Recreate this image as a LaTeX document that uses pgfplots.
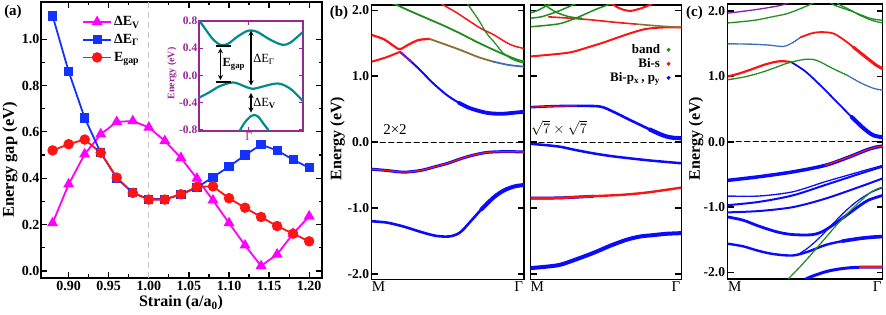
\documentclass[border=0pt]{standalone}
\usepackage{fontspec}
\setmainfont{Liberation Serif}
\usepackage{pgfplots}
\pgfplotsset{compat=1.18}
\definecolor{mag}{RGB}{255,0,255}
\definecolor{ablue}{RGB}{20,50,255}
\definecolor{ared}{RGB}{255,20,20}
\definecolor{tealc}{RGB}{0,140,140}
\definecolor{ipurple}{RGB}{150,40,150}
\definecolor{bblue}{RGB}{10,10,255}
\definecolor{bred}{RGB}{250,20,20}
\definecolor{bgreen}{RGB}{30,140,30}
\definecolor{oliv}{RGB}{140,110,50}
\definecolor{steel}{RGB}{60,110,180}
\definecolor{bpurple}{RGB}{130,30,170}
\pgfplotsset{
  bandax/.style={
    anchor=south west, scale only axis,
    xmin=0, xmax=1,
    axis line style={line width=1.5pt},
    ytick={-2,-1,0,1,2},
    yticklabels={-2.0,-1.0,0.0,1.0,2.0},
    tick align=inside,
    major tick length=6pt,
    ytick style={line width=1.5pt, black},
    xtick={0.045,0.965},
    xticklabels={M,Γ},
    xtick style={draw=none},
    xticklabel style={font=\fontsize{15}{15}\selectfont, inner sep=1pt, yshift=-1pt},
    yticklabel style={font=\fontsize{13.5}{14}\selectfont\bfseries, inner sep=2.5pt},
    every axis plot/.append style={smooth, line cap=round},
  },
  dotl/.style={line width=1.4pt, dash pattern=on 1pt off 0.8pt},
  fermi/.style={black, line width=1.2pt, dash pattern=on 5pt off 3.5pt, sharp plot},
}
\begin{document}
\begin{tikzpicture}[x=1pt,y=1pt]
\path[use as bounding box] (0,0) rectangle (886,315);

% ---------------- panel (a)
\begin{axis}[at={(41pt,37pt)}, anchor=south west, scale only axis, width=281pt, height=276pt,
  xmin=0.8655, xmax=1.216, ymin=-0.03, ymax=1.16,
  xtick={0.90,0.95,1.00,1.05,1.10,1.15,1.20},
  xticklabels={0.90,0.95,1.00,1.05,1.10,1.15,1.20},
  ytick={0,0.2,0.4,0.6,0.8,1.0}, yticklabels={0.0,0.2,0.4,0.6,0.8,1.0},
  minor x tick num=1, minor y tick num=1,
  tick align=inside, major tick length=6pt, minor tick length=3.5pt,
  tick style={line width=1.2pt, black},
  axis line style={line width=1.5pt},
  tick label style={font=\fontsize{14}{15}\selectfont\bfseries},
  yticklabel style={inner sep=1.5pt},
  legend style={draw=none, fill=none, at={(0.146,0.955)}, anchor=north west,
    font=\fontsize{14}{16}\selectfont\bfseries, row sep=3pt, inner sep=0pt,
    nodes={inner sep=2pt}},
  legend cell align=left,
  legend image code/.code={\draw[mark repeat=2,mark phase=2,#1] plot coordinates {(0pt,0pt)(14pt,0pt)(28pt,0pt)};},
]
\addplot[gray!45, line width=1.2pt, dash pattern=on 6pt off 4pt, forget plot] coordinates {(1,-0.03)(1,1.16)};
\addplot[mag, line width=1.8pt, mark=triangle*, mark size=4.6pt] coordinates {
(0.88,0.207)(0.90,0.374)(0.92,0.504)(0.94,0.59)(0.96,0.643)(0.98,0.647)(1.00,0.619)(1.02,0.561)(1.04,0.488)(1.06,0.399)(1.08,0.305)(1.10,0.207)(1.12,0.111)(1.14,0.022)(1.16,0.072)(1.18,0.161)(1.20,0.236)};
\addlegendentry{ΔE\textsubscript{V}}
\addplot[ablue, line width=1.8pt, mark=square*, mark size=3.7pt] coordinates {
(0.88,1.10)(0.90,0.86)(0.92,0.66)(0.94,0.51)(0.96,0.40)(0.98,0.337)(1.00,0.31)(1.02,0.31)(1.04,0.33)(1.06,0.36)(1.08,0.405)(1.10,0.45)(1.12,0.50)(1.14,0.545)(1.16,0.52)(1.18,0.48)(1.20,0.445)};
\addlegendentry{ΔE\textsubscript{Γ}}
\addplot[ared, line width=1.8pt, mark=*, mark size=4.3pt] coordinates {
(0.88,0.52)(0.90,0.547)(0.92,0.567)(0.94,0.51)(0.96,0.403)(0.98,0.337)(1.00,0.308)(1.02,0.308)(1.04,0.331)(1.06,0.363)(1.08,0.365)(1.10,0.314)(1.12,0.273)(1.14,0.233)(1.16,0.194)(1.18,0.161)(1.20,0.128)};
\addlegendentry{E\textsubscript{gap}}
\end{axis}

% ---------------- inset
\begin{axis}[at={(199pt,184pt)}, anchor=south west, scale only axis, width=104pt, height=110pt,
  xmin=0, xmax=1, ymin=-0.82, ymax=0.8,
  axis background/.style={fill=white},
  axis line style={ipurple, line width=1.3pt},
  ytick={-0.8,-0.4,0,0.4,0.8}, yticklabels={-0.8,-0.4,0.0,0.4,0.8},
  xtick={0.48}, xticklabels={Γ},
  tick style={ipurple, line width=1pt},
  tick align=inside, major tick length=4pt,
  yticklabel style={ipurple, font=\fontsize{11.5}{12}\selectfont\bfseries, inner sep=1.5pt},
  xticklabel style={ipurple, font=\fontsize{12}{12}\selectfont, inner sep=1pt},
]
\addplot[tealc, line width=2.2pt, smooth] coordinates {(-0.02,0.86)(0.006,0.8)(0.071,0.66)(0.135,0.53)(0.21,0.445)(0.28,0.465)(0.361,0.56)(0.45,0.645)(0.5,0.66)(0.56,0.64)(0.684,0.525)(0.8,0.45)(0.877,0.48)(1,0.64)};
\addplot[tealc, line width=2.2pt, smooth] coordinates {(0,-0.33)(0.1,-0.25)(0.2,-0.16)(0.33,-0.105)(0.45,-0.17)(0.52,-0.2)(0.6,-0.17)(0.76,-0.12)(0.88,-0.2)(1,-0.38)};
\addplot[tealc, line width=2.2pt, smooth] coordinates {(0.375,-0.86)(0.394,-0.81)(0.442,-0.69)(0.5,-0.6)(0.53,-0.585)(0.57,-0.61)(0.619,-0.71)(0.668,-0.81)(0.685,-0.86)};
\draw[black, line width=1.6pt] (axis cs:0.16,0.43) -- (axis cs:0.31,0.43);
\draw[black, line width=1.6pt] (axis cs:0.16,-0.10) -- (axis cs:0.31,-0.10);
\draw[<->, >=stealth, black, line width=1.3pt] (axis cs:0.206,0.40) -- (axis cs:0.206,-0.07);
\draw[<->, >=stealth, black, line width=1.3pt] (axis cs:0.5,0.66) -- (axis cs:0.5,-0.15);
\draw[<->, >=stealth, black, line width=1.3pt] (axis cs:0.5,-0.26) -- (axis cs:0.5,-0.55);
\node[anchor=west, font=\fontsize{12.5}{13}\selectfont\bfseries, inner sep=0pt] at (axis cs:0.225,0.16) {E\textsubscript{gap}};
\node[anchor=west, font=\fontsize{12.5}{13}\selectfont, inner sep=0pt] at (axis cs:0.52,0.24) {ΔE\textsubscript{Γ}};
\node[anchor=west, font=\fontsize{12.5}{13}\selectfont, inner sep=0pt] at (axis cs:0.52,-0.42) {ΔE\textsubscript{\textbf{V}}};
\end{axis}

% ---------------- panel (b) left : 2x2
\begin{axis}[bandax, at={(371.7pt,35.7pt)}, width=152.3pt, height=274.3pt, ymin=-2.08, ymax=2.08]
\addplot[fermi] coordinates {(0,0)(1,0)};
\addplot[bblue, line width=2.6pt] coordinates {(0,-1.2)(0.1,-1.22)(0.21,-1.28)(0.32,-1.36)(0.42,-1.42)(0.51,-1.43)(0.58,-1.37)(0.65,-1.2)(0.72,-1.02)(0.8,-0.84)(0.87,-0.73)(0.94,-0.67)(1,-0.65)};
\addplot[bblue, line width=4pt] coordinates {(0.72,-1.02)(0.8,-0.84)(0.87,-0.73)(0.94,-0.67)(1,-0.65)};
\addplot[bblue, line width=3pt] coordinates {(0,-0.41)(0.1,-0.43)(0.21,-0.455)(0.32,-0.43)(0.42,-0.37)(0.5,-0.32)(0.6,-0.24)(0.68,-0.19)(0.76,-0.155)(0.85,-0.145)(0.93,-0.145)(1,-0.15)};
\addplot[bred, line width=1.2pt] coordinates {(0,-0.41)(0.1,-0.43)(0.21,-0.455)(0.32,-0.43)(0.42,-0.37)(0.5,-0.32)(0.6,-0.24)(0.68,-0.19)(0.76,-0.155)(0.85,-0.145)(0.93,-0.145)(1,-0.15)};
\addplot[bblue, line width=2pt] coordinates {(0.186,1.37)(0.25,1.24)(0.317,1.095)(0.4,0.9)(0.49,0.72)(0.57,0.6)(0.645,0.515)(0.755,0.445)(0.85,0.43)(0.93,0.445)(1,0.46)};
\addplot[bblue, line width=3.8pt] coordinates {(0.57,0.6)(0.645,0.515)(0.755,0.445)(0.85,0.43)(0.93,0.445)(1,0.46)};
\addplot[bpurple, line width=2pt] coordinates {(0.186,1.37)(0.22,1.3)(0.26,1.22)};
\addplot[bred, line width=2pt] coordinates {(0,1.22)(0.1,1.29)(0.186,1.37)};
\addplot[bred, line width=2.2pt] coordinates {(0,1.625)(0.08,1.56)(0.15,1.45)(0.186,1.41)(0.25,1.49)(0.31,1.55)(0.38,1.565)};
\addplot[oliv, line width=1.8pt] coordinates {(0.38,1.565)(0.46,1.5)(0.58,1.4)(0.7,1.29)(0.8,1.22)};
\addplot[steel, line width=1.8pt] coordinates {(0.8,1.22)(0.9,1.17)(1,1.145)};
\addplot[bgreen, line width=1.8pt] coordinates {(0.12,2.12)(0.164,2.08)(0.26,1.98)(0.36,1.88)(0.47,1.77)(0.58,1.65)(0.69,1.52)(0.8,1.40)(0.9,1.3)(0.97,1.24)(1,1.23)};
\addplot[bred, line width=1.5pt] coordinates {(0.44,2.12)(0.47,2.08)(0.56,1.96)(0.645,1.83)(0.72,1.72)(0.8,1.63)(0.91,1.48)(1,1.42)};
\addplot[bgreen, dotl] coordinates {(0.62,2.12)(0.634,2.08)(0.7,1.86)(0.755,1.65)(0.81,1.5)(0.864,1.35)(0.93,1.25)(1,1.2)};
\end{axis}

% ---------------- panel (b) right : sqrt7
\begin{axis}[bandax, at={(530.5pt,35.7pt)}, width=150.8pt, height=274.3pt, ymin=-2.08, ymax=2.08,
  yticklabels={},
  legend style={draw=none, fill=none, at={(0.93,0.862)}, anchor=north east,
    font=\fontsize{13}{14}\selectfont\bfseries, row sep=0.5pt, inner sep=0pt, nodes={inner sep=1.5pt}},
  legend cell align=right, legend plot pos=right]
\addlegendimage{legend image code/.code={\path[draw=none] (0pt,0pt) -- (7pt,0pt); \fill[bgreen] (7pt,0pt) circle (1.8pt);}}
\addlegendentry{band}
\addlegendimage{legend image code/.code={\path[draw=none] (0pt,0pt) -- (7pt,0pt); \fill[bred] (7pt,0pt) circle (1.8pt);}}
\addlegendentry{Bi-s}
\addlegendimage{legend image code/.code={\path[draw=none] (0pt,0pt) -- (7pt,0pt); \fill[bblue] (7pt,0pt) circle (1.8pt);}}
\addlegendentry{Bi-p\textsubscript{x}\,, p\textsubscript{y}}
\addplot[fermi] coordinates {(0,0)(1,0)};
\addplot[bblue, line width=4pt] coordinates {(0,-1.91)(0.1,-1.89)(0.196,-1.86)(0.3,-1.78)(0.417,-1.68)(0.53,-1.57)(0.638,-1.48)(0.73,-1.43)(0.815,-1.41)(0.9,-1.39)(1,-1.38)};
\addplot[bblue, line width=3pt] coordinates {(0,-0.85)(0.2,-0.845)(0.417,-0.82)};
\addplot[bred, line width=2.4pt] coordinates {(0,-0.85)(0.2,-0.845)(0.417,-0.82)(0.6,-0.8)(0.75,-0.77)(0.88,-0.73)(1,-0.69)};
\addplot[bblue, line width=2.5pt] coordinates {(0,-0.026)(0.1,-0.045)(0.196,-0.07)(0.3,-0.12)(0.417,-0.17)(0.53,-0.21)(0.638,-0.24)(0.8,-0.28)(1,-0.32)};
\addplot[bblue, line width=2.6pt] coordinates {(0,0.53)(0.15,0.545)(0.306,0.55)(0.46,0.54)(0.55,0.46)(0.638,0.36)(0.72,0.27)(0.793,0.19)(0.86,0.12)(0.903,0.085)(0.95,0.065)(1,0.06)};
\addplot[bred, line width=1pt] coordinates {(0,0.53)(0.15,0.545)(0.306,0.55)};
\addplot[bblue, line width=4.2pt] coordinates {(0.793,0.19)(0.86,0.12)(0.903,0.085)(0.95,0.065)(1,0.06)};
\addplot[bred, line width=2pt] coordinates {(0,1.30)(0.1,1.32)(0.26,1.36)(0.37,1.43)(0.483,1.51)(0.57,1.58)(0.66,1.65)(0.75,1.71)(0.815,1.73)(0.9,1.74)(1,1.74)};
\addplot[bred, line width=1.6pt] coordinates {(0.12,1.9)(0.26,1.88)(0.4,1.855)(0.55,1.82)(0.7,1.79)};
\addplot[oliv, line width=1.6pt] coordinates {(0.7,1.79)(0.86,1.76)(1,1.74)};
\addplot[bred, line width=2pt] coordinates {(0.5,2.15)(0.55,2.08)(0.6,2.02)(0.66,1.99)(0.72,2.02)(0.79,2.08)(0.83,2.15)};
\addplot[bgreen, line width=1.5pt] coordinates {(0,1.75)(0.1,1.77)(0.2,1.8)(0.3,1.88)(0.37,1.95)(0.44,2.02)(0.51,2.08)(0.55,2.12)};
\addplot[bgreen, line width=1.5pt] coordinates {(0,1.88)(0.07,1.9)(0.14,1.95)(0.2,2.0)(0.26,2.06)(0.3,2.1)};
\addplot[bgreen, line width=1.5pt] coordinates {(0,1.96)(0.05,2.0)(0.1,2.06)(0.14,2.1)};
\addplot[bgreen, line width=1.5pt] coordinates {(0.08,2.12)(0.12,2.04)(0.18,1.96)(0.26,1.9)(0.34,1.88)};
\end{axis}

% ---------------- panel (c)
\begin{axis}[bandax, at={(727.7pt,36pt)}, width=155pt, height=275pt, ymin=-2.10, ymax=2.11]
\addplot[fermi] coordinates {(0,0)(1,0)};
% conduction
\addplot[bblue, line width=1.8pt] coordinates {(0.41,1.22)(0.5,1.08)(0.6,0.86)(0.7,0.62)(0.8,0.38)(0.88,0.2)(0.94,0.1)(1,0.07)};
\addplot[bblue, line width=4pt] coordinates {(0.8,0.38)(0.88,0.2)(0.94,0.1)(1,0.07)};
\addplot[bred, line width=2.2pt] coordinates {(0,1.0)(0.08,1.05)(0.166,1.12)(0.25,1.19)(0.338,1.235)(0.41,1.22)};
\addplot[bgreen, dotl] coordinates {(0,0.95)(0.1,0.99)(0.2,1.05)(0.3,1.13)(0.38,1.2)(0.49,1.26)(0.57,1.25)(0.68,1.12)(0.77,1.02)};
\addplot[steel, dotl] coordinates {(0.77,1.02)(0.86,0.9)(0.94,0.82)(1,0.79)};
\addplot[steel, dotl] coordinates {(0,1.5)(0.15,1.495)(0.27,1.48)(0.36,1.46)(0.42,1.52)(0.47,1.6)};
\addplot[bred, line width=1.8pt] coordinates {(0.47,1.6)(0.54,1.66)(0.6,1.68)(0.68,1.66)(0.75,1.56)(0.81,1.45)(0.9,1.28)(0.96,1.17)(1,1.12)};
\addplot[bred, line width=3pt] coordinates {(0.81,1.45)(0.9,1.28)(0.96,1.17)(1,1.12)};
\addplot[bgreen, dotl] coordinates {(0,1.82)(0.17,1.86)(0.3,1.92)(0.38,1.96)(0.46,2.03)(0.53,2.1)(0.56,2.14)};
\addplot[bpurple, dotl] coordinates {(0,1.97)(0.17,2.02)(0.3,2.07)(0.36,2.1)(0.4,2.14)};
\addplot[bgreen, dotl] coordinates {(0.66,2.14)(0.68,2.1)(0.75,2.04)(0.81,1.99)(0.92,1.89)(1,1.86)};
\addplot[bgreen, dotl] coordinates {(0.7,2.14)(0.72,2.1)(0.79,2.02)(0.85,1.94)(0.93,1.86)(1,1.82)};
% valence
\addplot[bblue, line width=3.5pt] coordinates {(0,-0.59)(0.2,-0.535)(0.42,-0.46)(0.63,-0.36)(0.785,-0.23)(0.89,-0.13)(0.95,-0.085)(1,-0.066)};
\addplot[bred, line width=1.2pt] coordinates {(0.63,-0.36)(0.785,-0.23)(0.89,-0.13)(0.95,-0.085)(1,-0.066)};
\addplot[bblue, dotl] coordinates {(0,-0.83)(0.2,-0.83)(0.42,-0.765)(0.63,-0.61)(0.85,-0.46)(1,-0.36)};
\addplot[bblue, line width=2pt] coordinates {(0,-0.97)(0.2,-0.92)(0.42,-0.82)(0.63,-0.66)(0.85,-0.49)(1,-0.38)};
\addplot[bblue, line width=2pt] coordinates {(0,-1.08)(0.2,-1.06)(0.42,-1.0)(0.63,-0.87)(0.85,-0.69)(1,-0.56)};
\addplot[bblue, line width=2.8pt] coordinates {(0,-1.15)(0.1,-1.2)(0.2,-1.29)(0.32,-1.38)(0.42,-1.42)(0.55,-1.42)(0.63,-1.35)(0.74,-1.17)(0.85,-0.98)(0.91,-0.89)(1,-0.82)};
\addplot[bblue, line width=2.4pt] coordinates {(0,-1.56)(0.1,-1.6)(0.2,-1.67)(0.3,-1.72)(0.42,-1.74)(0.52,-1.68)(0.63,-1.58)(0.74,-1.52)(0.85,-1.48)(0.93,-1.46)(1,-1.45)};
\addplot[bblue, line width=3.6pt] coordinates {(0.74,-1.52)(0.85,-1.48)(0.93,-1.46)(1,-1.45)};
\addplot[bblue, dotl] coordinates {(0.45,-1.73)(0.52,-1.62)(0.6,-1.45)(0.68,-1.25)(0.76,-1.06)(0.84,-0.9)(0.92,-0.78)(1,-0.7)};
\addplot[bgreen, dotl] coordinates {(0.36,-2.2)(0.39,-2.1)(0.46,-1.93)(0.54,-1.72)(0.62,-1.5)(0.7,-1.28)(0.78,-1.08)(0.86,-0.9)(0.93,-0.76)(1,-0.69)};
\addplot[bblue, line width=3pt] coordinates {(0.48,-2.2)(0.505,-2.1)(0.63,-1.99)(0.74,-1.94)(0.85,-1.92)(1,-1.92)};
\addplot[bred, line width=1.6pt] coordinates {(0.85,-1.92)(1,-1.92)};
\end{axis}

% ---------------- labels
\node[font=\fontsize{15}{15}\selectfont\bfseries] at (13,303) {(a)};
\node[font=\fontsize{15}{15}\selectfont\bfseries] at (339,302) {(b)};
\node[font=\fontsize{15}{15}\selectfont\bfseries] at (694.5,302) {(c)};
\node[font=\fontsize{16}{16}\selectfont\bfseries] at (181,12) {Strain (a/a\textsubscript{0})};
\node[font=\fontsize{16.5}{17}\selectfont\bfseries, rotate=90] at (10,155) {Energy gap (eV)};
\node[font=\fontsize{16}{16}\selectfont\bfseries, rotate=90] at (337.5,176.5) {Energy (eV)};
\node[font=\fontsize{16}{16}\selectfont\bfseries, rotate=90] at (696,176.5) {Energy (eV)};
\node[font=\fontsize{10}{10}\selectfont\bfseries, text=ipurple, rotate=90] at (172,241.5) {Energy (eV)};
\node[font=\fontsize{15}{15}\selectfont] at (395,185) {2×2};
\node[font=\fontsize{15}{15}\selectfont] at (559,187) {$\sqrt{7}\times\sqrt{7}$};
\end{tikzpicture}
\end{document}
